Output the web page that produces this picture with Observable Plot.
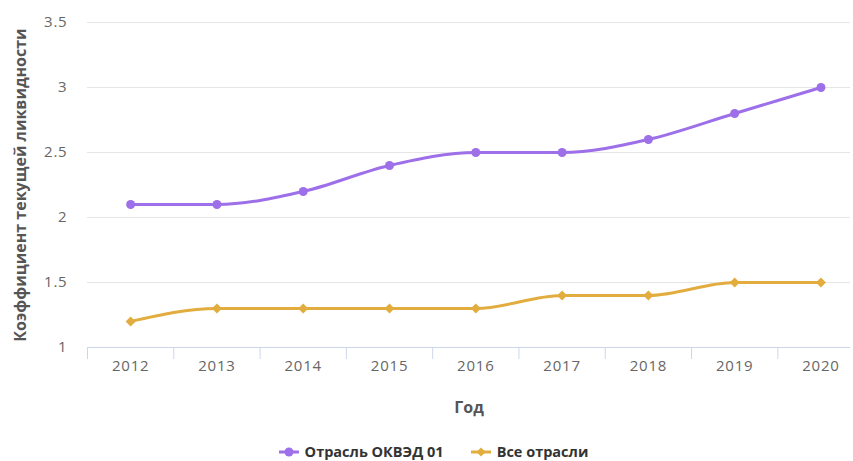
<!DOCTYPE html>
<html><head><meta charset="utf-8">
<script src="https://cdn.jsdelivr.net/npm/d3@7"></script>
<script src="https://cdn.jsdelivr.net/npm/@observablehq/plot@0.6"></script>
<style>
html,body{margin:0;padding:0;background:#fff;overflow:hidden;width:853px;height:461px;}
#legend{display:flex;justify-content:center;gap:27px;margin-top:17px;font-family:"Open Sans",sans-serif;font-weight:700;font-size:14.5px;color:#333;padding-left:14px;}
#legend .item{display:flex;align-items:center;gap:6px;}
</style></head>
<body>
<div id="chart"></div>
<div id="legend"></div>
<script>
const years = [2012, 2013, 2014, 2015, 2016, 2017, 2018, 2019, 2020];
const okved01 = [2.1, 2.1, 2.2, 2.4, 2.5, 2.5, 2.6, 2.8, 3.0];
const allIndustries = [1.2, 1.3, 1.3, 1.3, 1.3, 1.4, 1.4, 1.5, 1.5];
const yTicks = [1, 1.5, 2, 2.5, 3, 3.5];
const seriesNames = ["Отрасль ОКВЭД 01", "Все отрасли"];
const colors = ["#9d6fe9", "#e2ad3e"];
const symbols = ["circle", "diamond2"];

const data = [];
years.forEach((y, i) => {
  data.push({year: y, value: okved01[i], series: seriesNames[0]});
  data.push({year: y, value: allIndustries[i], series: seriesNames[1]});
});
const boundaries = years.map(y => y - 0.5);

const font = "'Open Sans', sans-serif";
const chart = Plot.plot({
  width: 853,
  height: 425,
  marginLeft: 87,
  marginRight: 3,
  marginTop: 22,
  marginBottom: 78,
  style: {fontFamily: font, fontSize: "15px", color: "#666", background: "#fff"},
  x: {domain: [years[0] - 0.5, years[years.length - 1] + 0.5], range: [87, 87 + 86.29 * 9]},
  y: {domain: [1, 3.5]},
  color: {domain: seriesNames, range: colors},
  symbol: {domain: seriesNames, range: symbols},
  marks: [
    Plot.gridY(yTicks.slice(1), {stroke: "#e6e6e6", strokeOpacity: 1, strokeWidth: 1}),
    Plot.axisY({ticks: yTicks, tickSize: 0, tickPadding: 20, tickFormat: d => String(d), fill: "#666",
      label: "Коэффициент текущей ликвидности", labelAnchor: "center", labelArrow: "none", labelOffset: 73}),
    Plot.ruleY([1], {stroke: "#ccd6eb", strokeWidth: 1}),
    Plot.axisX({ticks: boundaries, tickSize: 12, stroke: "#ccd6eb", strokeOpacity: 1, text: null, label: null}),
    Plot.axisX({ticks: years, tickSize: 0, tickPadding: 13, tickFormat: d => String(d), fill: "#666",
      label: "Год", labelAnchor: "center", labelArrow: "none", labelOffset: 65}),
    Plot.line(data, {x: "year", y: "value", z: "series", stroke: "series", strokeWidth: 3, curve: "monotone-x"}),
    Plot.dot(data, {x: "year", y: "value", fill: "series", symbol: "series", r: 4.5, stroke: null})
  ]
});
d3.select(chart).selectAll("[aria-label='y-axis tick label'] text, [aria-label='x-axis tick label'] text")
  .style("letter-spacing", "0.8px");
d3.select(chart).selectAll("[aria-label='y-axis label'] text, [aria-label='x-axis label'] text")
  .style("font-weight", "700").style("fill", "#555").style("font-size", "16px");
document.getElementById("chart").appendChild(chart);

const legend = document.getElementById("legend");
seriesNames.forEach((name, i) => {
  const item = document.createElement("div");
  item.className = "item";
  const sym = symbols[i] === "circle"
    ? `<circle cx="10" cy="7" r="4.5" fill="${colors[i]}"/>`
    : `<path d="M10,2.5L14.5,7L10,11.5L5.5,7Z" fill="${colors[i]}"/>`;
  item.innerHTML = `<svg width="20" height="14"><line x1="0" x2="20" y1="7" y2="7" stroke="${colors[i]}" stroke-width="3"/>${sym}</svg><span>${name}</span>`;
  legend.appendChild(item);
});
</script>
</body></html>
